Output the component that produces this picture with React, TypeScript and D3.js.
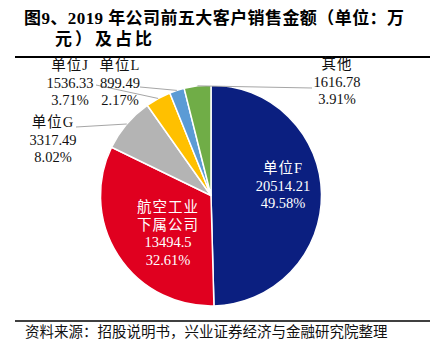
import { useEffect, useRef } from 'react';
import * as d3 from 'd3';

// 2019 前五大客户销售金额（万元）及占比
const names = ['单位F', '航空工业下属公司', '单位G', '单位J', '单位L', '其他'];
const values = [20514.21, 13494.5, 3317.49, 1536.33, 899.49, 1616.78];
const valueLabels = ['20514.21', '13494.5', '3317.49', '1536.33', '899.49', '1616.78'];
const shareLabels = ['49.58%', '32.61%', '8.02%', '3.71%', '2.17%', '3.91%'];
const colors = ['#0b1f80', '#e0001f', '#b4b4b4', '#ffc000', '#5b9bd5', '#70ad47'];

// label layout: name lines, anchor x, first line y, leader start
const labelLines = [['单位F'], ['航空工业', '下属公司'], ['单位G'], ['单位J'], ['单位L'], ['其他']];
const labelAnchor: [number, number][] = [
  [283, 168],
  [168, 207],
  [53, 122],
  [70, 65],
  [120, 65],
  [337, 64],
];
const leaderStart: ([number, number] | null)[] = [null, null, [76, 127], [96, 85], [140, 87], [312, 88]];

const W = 430;
const H = 352;

export default function App() {
  const svgRef = useRef<SVGSVGElement>(null);

  useEffect(() => {
    if (!svgRef.current) return;
    const svg = d3.select(svgRef.current);
    svg.selectAll('*').remove();

    const cx = 211;
    const cy = 195.5;
    const r = 110.5;
    const font = '"Liberation Serif", "Noto Sans CJK SC", serif';

    // Title
    const title = svg.append('g')
      .attr('font-family', font)
      .attr('font-weight', 'bold')
      .attr('font-size', 17)
      .attr('fill', '#000');
    title.append('text').attr('x', 24).attr('y', 18).attr('dominant-baseline', 'central')
      .attr('textLength', 380)
      .attr('lengthAdjust', 'spacing')
      .text('图9、2019 年公司前五大客户销售金额（单位：万');
    title.append('text').attr('x', 55).attr('y', 39).attr('dominant-baseline', 'central')
      .attr('letter-spacing', 3)
      .text('元）及占比');

    svg.append('line').attr('x1', 15).attr('x2', W).attr('y1', 57).attr('y2', 57)
      .attr('stroke', '#000').attr('stroke-width', 2);
    svg.append('line').attr('x1', 15).attr('x2', W).attr('y1', 321).attr('y2', 321)
      .attr('stroke', '#000').attr('stroke-width', 1.5);

    svg.append('text')
      .attr('x', 25).attr('y', 332)
      .attr('dominant-baseline', 'central')
      .attr('font-family', font)
      .attr('font-size', 14.5)
      .attr('fill', '#111')
      .text('资料来源：招股说明书，兴业证券经济与金融研究院整理');

    const pie = d3.pie<number>().sort(null).value((d) => d);
    const arcs = pie(values);
    const arc = d3.arc<d3.PieArcDatum<number>>().innerRadius(0).outerRadius(r);
    const rim = d3.arc<d3.PieArcDatum<number>>().innerRadius(r).outerRadius(r);

    const g = svg.append('g').attr('transform', `translate(${cx},${cy})`);

    // Leader lines
    arcs.forEach((a, i) => {
      const s = leaderStart[i];
      if (!s) return;
      const [ex, ey] = rim.centroid(a);
      svg.append('line')
        .attr('x1', s[0]).attr('y1', s[1])
        .attr('x2', cx + ex).attr('y2', cy + ey)
        .attr('stroke', '#a6a6a6')
        .attr('stroke-width', 1);
    });

    g.selectAll('path')
      .data(arcs)
      .join('path')
      .attr('d', arc)
      .attr('fill', (_, i) => colors[i])
      .attr('stroke', '#fff')
      .attr('stroke-width', 1.5)
      .attr('stroke-linejoin', 'round');

    // Labels
    names.forEach((_, i) => {
      const lines = [...labelLines[i], valueLabels[i], shareLabels[i]];
      const inside = i < 2;
      const [lx, ly] = labelAnchor[i];
      const t = svg.append('text')
        .attr('font-family', font)
        .attr('font-size', 14.5)
        .attr('text-anchor', 'middle')
        .attr('fill', inside ? '#fff' : '#111');
      lines.forEach((ln, k) => {
        t.append('tspan')
          .attr('x', lx)
          .attr('y', ly + k * 17.6)
          .attr('dominant-baseline', 'central')
          .attr('letter-spacing', k < labelLines[i].length ? 1 : 0)
          .text(ln);
      });
    });
  }, []);

  return (
    <svg
      ref={svgRef}
      width={W}
      height={H}
      style={{ position: 'absolute', left: 0, top: 0, background: '#fff' }}
    />
  );
}
